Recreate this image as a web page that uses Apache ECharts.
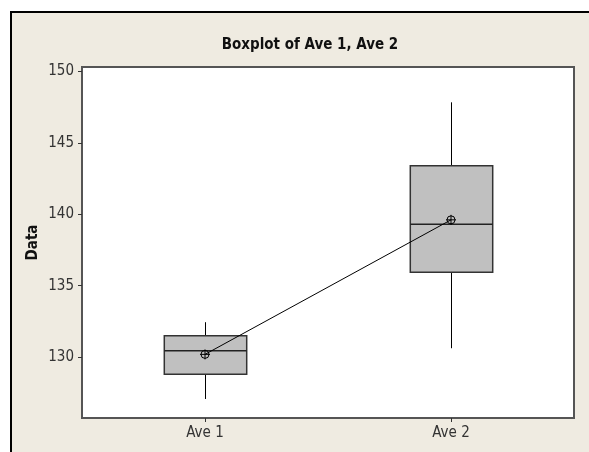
<!DOCTYPE html>
<html>
<head>
<meta charset="utf-8">
<script src="https://cdn.jsdelivr.net/npm/echarts@6/dist/echarts.min.js"></script>
<style>html,body{margin:0;padding:0;background:#fff;}#c{width:589px;height:452px;}</style>
</head>
<body>
<div id="c"></div>
<script>
var categories = ['Ave 1', 'Ave 2'];
var mins    = [127.08, 130.63];
var q1s     = [128.81, 135.95];
var medians = [130.46, 139.31];
var q3s     = [131.51, 143.40];
var maxs    = [132.45, 147.83];
var means   = [130.20, 139.61];
var yTicks  = [130, 135, 140, 145, 150];

var FONT = '"Liberation Sans Narrow", "DejaVu Sans Condensed", sans-serif';
var boxData = categories.map(function (c, i) {
  return [i, mins[i], q1s[i], medians[i], q3s[i], maxs[i]];
});
var meanData = categories.map(function (c, i) { return [i, means[i]]; });

var chart = echarts.init(document.getElementById('c'), null, {renderer: 'canvas'});
chart.setOption({
  backgroundColor: '#ffffff',
  animation: false,
  graphic: [{
    type: 'rect', z: -10, silent: true,
    shape: {x: 11, y: 12, width: 700, height: 600},
    style: {fill: '#efebe1', stroke: '#000', lineWidth: 2}
  }],
  title: {
    text: 'Boxplot of Ave 1, Ave 2',
    left: 305, top: 33, textAlign: 'center',
    textStyle: {fontFamily: FONT, fontWeight: 'bold', fontSize: 15, color: '#111'}
  },
  grid: {
    left: 82, right: 15, top: 67, bottom: 34,
    show: true, backgroundColor: '#ffffff', borderColor: '#555', borderWidth: 2
  },
  xAxis: {
    type: 'category', data: categories, boundaryGap: true,
    axisLine: {show: true, lineStyle: {color: '#555', width: 2}},
    axisTick: {show: true, alignWithLabel: true, length: 4, lineStyle: {color: '#333'}},
    axisLabel: {fontFamily: FONT, fontSize: 15, color: '#333', margin: 8}
  },
  yAxis: {
    type: 'value', min: 125.75, max: 150.3,
    name: 'Data', nameLocation: 'middle', nameGap: 41, nameRotate: 90,
    nameMoveOverlap: false,
    nameTextStyle: {fontFamily: FONT, fontWeight: 'bold', fontSize: 15, color: '#111'},
    axisLine: {show: true, lineStyle: {color: '#555', width: 2}},
    axisTick: {show: true, length: 4, customValues: yTicks, lineStyle: {color: '#333'}},
    axisLabel: {fontFamily: FONT, fontSize: 15, color: '#333', margin: 8, customValues: yTicks},
    splitLine: {show: false}
  },
  series: [{
    type: 'custom',
    data: boxData,
    encode: {x: 0, y: [1, 2, 3, 4, 5]},
    z: 2,
    renderItem: function (params, api) {
      var x = api.value(0);
      var pMin = api.coord([x, api.value(1)]);
      var pQ1 = api.coord([x, api.value(2)]);
      var pMed = api.coord([x, api.value(3)]);
      var pQ3 = api.coord([x, api.value(4)]);
      var pMax = api.coord([x, api.value(5)]);
      var bw = api.size([1, 0])[0] * 0.335;
      var cx = Math.round(pMed[0]) + 0.5;
      var ln = {stroke: '#000', lineWidth: 1};
      return {type: 'group', children: [
        {type: 'line', shape: {x1: cx, y1: pMax[1], x2: cx, y2: pQ3[1]}, style: ln},
        {type: 'line', shape: {x1: cx, y1: pQ1[1], x2: cx, y2: pMin[1]}, style: ln},
        {type: 'rect', shape: {x: cx - bw / 2, y: pQ3[1], width: bw, height: pQ1[1] - pQ3[1]},
          style: {fill: '#c0c0c0', stroke: '#333', lineWidth: 1.5}},
        {type: 'line', shape: {x1: cx - bw / 2, y1: pMed[1], x2: cx + bw / 2, y2: pMed[1]},
          style: {stroke: '#222', lineWidth: 1.5}}
      ]};
    }
  }, {
    type: 'line',
    data: means,
    symbol: 'none',
    z: 3,
    lineStyle: {color: '#000', width: 1}
  }, {
    type: 'custom',
    data: meanData,
    z: 4,
    renderItem: function (params, api) {
      var p = api.coord([api.value(0), api.value(1)]);
      var r = 4;
      var s = {stroke: '#000', lineWidth: 1, fill: null};
      return {type: 'group', children: [
        {type: 'circle', shape: {cx: p[0], cy: p[1], r: r}, style: {stroke: '#000', lineWidth: 1, fill: 'rgba(0,0,0,0)'}},
        {type: 'line', shape: {x1: p[0] - r - 1, y1: p[1], x2: p[0] + r + 1, y2: p[1]}, style: s},
        {type: 'line', shape: {x1: p[0], y1: p[1] - r - 1, x2: p[0], y2: p[1] + r + 1}, style: s}
      ]};
    }
  }]
});
</script>
</body>
</html>
